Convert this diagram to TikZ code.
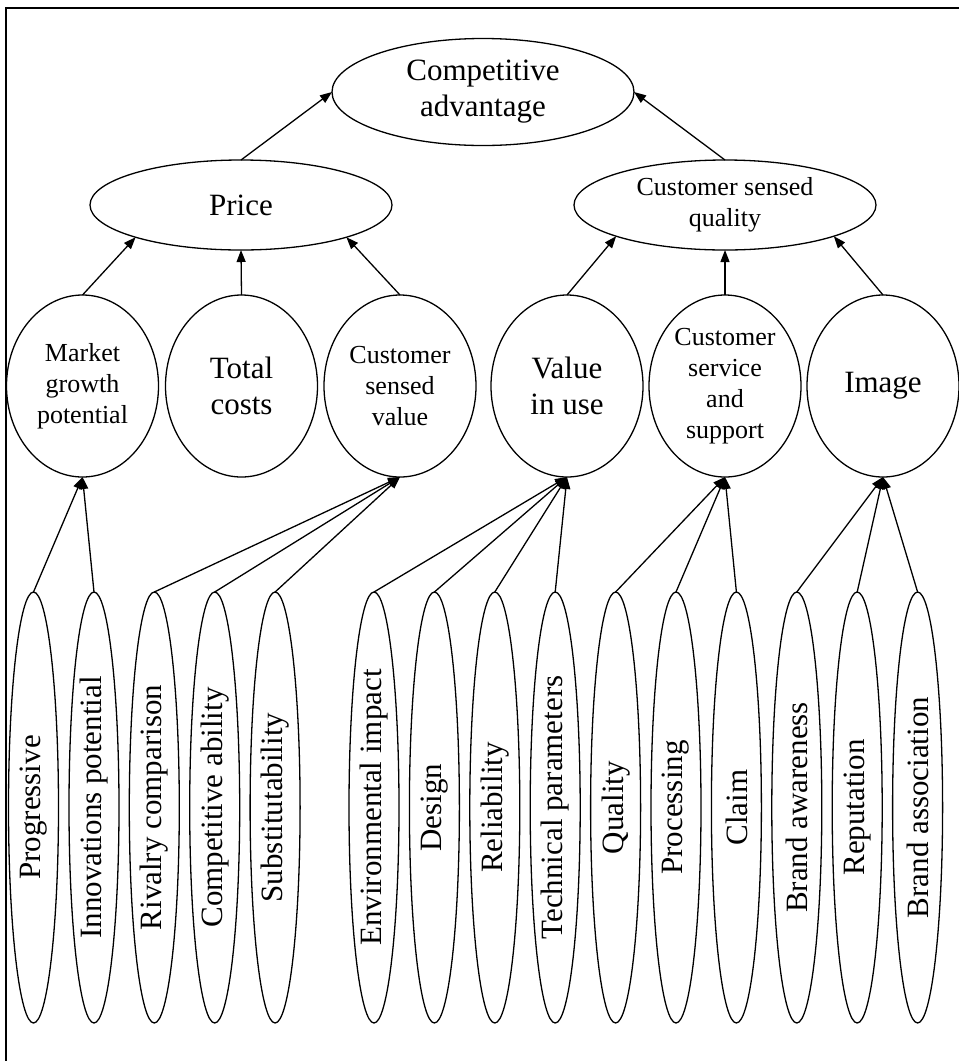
\documentclass[tikz,border=0pt]{standalone}
\usepackage{fontspec}
\setmainfont{Liberation Serif}
\usetikzlibrary{shapes.geometric,arrows.meta}
\tikzset{
  big/.style={font=\fontsize{31}{36}\selectfont},
  small/.style={font=\fontsize{26}{31}\selectfont},
  oval/.style={draw, ellipse, line width=1.3pt, inner sep=0pt, outer sep=0pt, align=center},
  topoval/.style={oval, minimum width=302pt, minimum height=90pt},
  midoval/.style={oval, minimum width=152pt, minimum height=182pt},
  leafoval/.style={oval, minimum width=50pt, minimum height=431pt},
  vlabel/.style={label={[rotate=90, big, inner sep=0pt]center:#1}},
  arr/.style={-{Triangle[length=12pt,width=9pt]}, line width=1.3pt},
  frameline/.style={line width=2pt}
}
\begin{document}
\begin{tikzpicture}[x=1pt,y=-1pt]
\useasboundingbox (0,0) rectangle (959,1061);
\coordinate (fa) at (5.5,1061);
\coordinate (fb) at (5.5,7.5);
\coordinate (fc) at (959,7.5);
\draw[frameline] (fa) -- (fb) -- (fc);

\node[oval, big, minimum width=302pt, minimum height=107pt] (ca) at (483,92) {Competitive\\advantage};
\node[topoval, big] (price) at (241,205) {Price};
\node[topoval, small] (csq) at (725,205) {Customer sensed\\quality};

\node[midoval, small] (mgp) at (82.5,386) {Market\\growth\\potential};
\node[midoval, big] (tc) at (241.5,386) {Total\\costs};
\node[midoval, small] (csv) at (400,386) {Customer\\sensed\\value};
\node[midoval, big] (viu) at (567,386) {Value\\in use};
\node[midoval, small] (css) at (725,386) {Customer\\service\\and\\support};
\node[midoval, big] (img) at (883,386) {Image};

\node[leafoval, vlabel=Progressive] (l1) at (33.5,807.5) {};
\node[leafoval, vlabel=Innovations potential] (l2) at (94,807.5) {};
\node[leafoval, vlabel=Rivalry comparison] (l3) at (154.3,807.5) {};
\node[leafoval, vlabel=Competitive ability] (l4) at (214.7,807.5) {};
\node[leafoval, vlabel=Substitutability] (l5) at (275.1,807.5) {};
\node[leafoval, vlabel=Environmental impact] (l6) at (374,807.5) {};
\node[leafoval, vlabel=Design] (l7) at (434.4,807.5) {};
\node[leafoval, vlabel=Reliability] (l8) at (494.8,807.5) {};
\node[leafoval, vlabel=Technical parameters] (l9) at (555.2,807.5) {};
\node[leafoval, vlabel=Quality] (l10) at (615.6,807.5) {};
\node[leafoval, vlabel=Processing] (l11) at (676,807.5) {};
\node[leafoval, vlabel=Claim] (l12) at (736.4,807.5) {};
\node[leafoval, vlabel=Brand awareness] (l13) at (796.8,807.5) {};
\node[leafoval, vlabel=Reputation] (l14) at (857.2,807.5) {};
\node[leafoval, vlabel=Brand association] (l15) at (917.6,807.5) {};

\draw[arr] (price.north) -- (ca.west);
\draw[arr] (csq.north) -- (ca.east);

\draw[arr] (mgp.north) -- (price.197);
\draw[arr] (tc.north) -- (price.south);
\draw[arr] (csv.north) -- (price.343);
\draw[arr] (viu.north) -- (csq.196);
\draw[arr] (css.north) -- (csq.south);
\draw[arr] (img.north) -- (csq.344);

\foreach \a/\b in {l1/mgp,l2/mgp,l3/csv,l4/csv,l5/csv,l6/viu,l7/viu,l8/viu,l9/viu,l10/css,l11/css,l12/css,l13/img,l14/img,l15/img}
  \draw[arr] (\a.north) -- (\b.south);
\end{tikzpicture}
\end{document}
